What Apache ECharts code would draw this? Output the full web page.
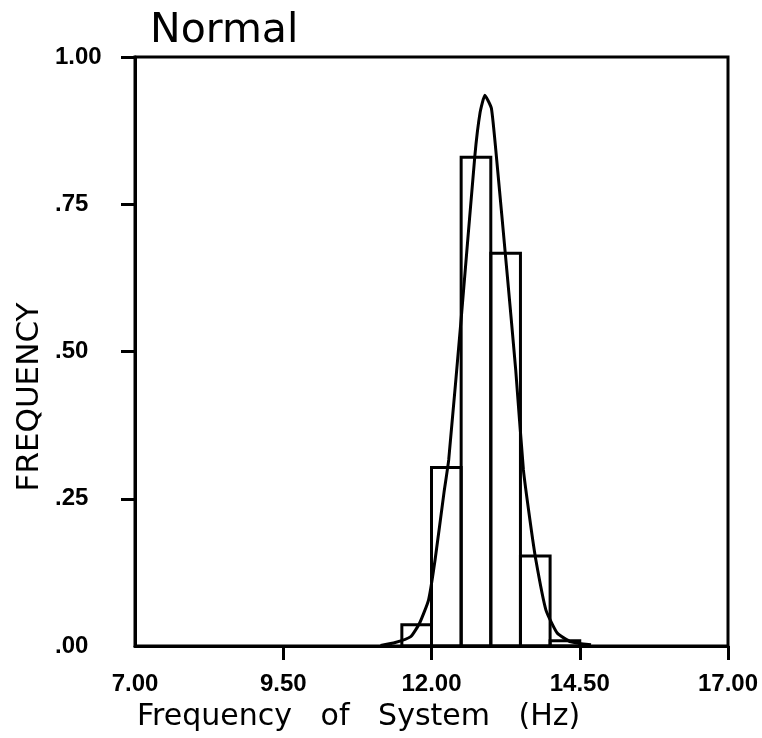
<!DOCTYPE html>
<html>
<head>
<meta charset="utf-8">
<script src="https://cdn.jsdelivr.net/npm/echarts@6/dist/echarts.min.js"></script>
<style>
html,body{margin:0;padding:0;background:#fff;}
#chart{width:762px;height:738px;}
</style>
</head>
<body>
<div id="chart"></div>
<script>
// Histogram bins (left edge, right edge) and relative frequencies
var binLeft = [11.5, 12.0, 12.5, 13.0, 13.5, 14.0];
var binRight = [12.0, 12.5, 13.0, 13.5, 14.0, 14.5];
var binHeight = [0.036, 0.303, 0.830, 0.667, 0.153, 0.009];

// Fitted normal curve
var curveX = [11.14, 11.36, 11.65, 11.80, 11.95, 12.06, 12.21, 12.29, 12.51, 12.73, 12.82, 12.90,
              13.01, 13.10, 13.27, 13.42, 13.55, 13.66, 13.76, 13.93, 14.12, 14.35, 14.69];
var curveY = [0.001, 0.005, 0.016, 0.039, 0.078, 0.146, 0.260, 0.316, 0.567, 0.831, 0.906, 0.935,
              0.913, 0.825, 0.638, 0.469, 0.299, 0.214, 0.146, 0.061, 0.022, 0.007, 0.002];

// Axis tick labels
var xTickValues = [7.0, 9.5, 12.0, 14.5, 17.0];
var xTickMarks = [9.5, 12.0, 14.5, 17.0];
var yTickValues = [0, 0.25, 0.5, 0.75, 1.0];
var yTickMarks = [0.25, 0.5, 0.75, 1.0];

var titleText = 'Normal';
var xName = 'Frequency   of   System   (Hz)';
var yName = 'FREQUENCY';

var barData = binLeft.map(function (l, i) { return [l, binRight[i], binHeight[i]]; });
var curveData = curveX.map(function (x, i) { return [x, curveY[i]]; });

var chart = echarts.init(document.getElementById('chart'), null, {renderer: 'canvas'});
var labelFont = {fontFamily: 'Liberation Sans', fontSize: 24, fontWeight: 'bold', color: '#000'};

chart.setOption({
  animation: false,
  backgroundColor: '#fff',
  grid: {left: 135, right: 34, top: 57, bottom: 92, show: true, borderColor: '#000', borderWidth: 3, backgroundColor: 'transparent'},
  xAxis: {
    type: 'value', min: 7, max: 17,
    axisLine: {show: true, onZero: false, lineStyle: {color: '#000', width: 3}},
    axisTick: {show: true, inside: false, length: 14, lineStyle: {color: '#000', width: 3}, customValues: xTickMarks},
    axisLabel: Object.assign({margin: 26, customValues: xTickValues, formatter: function (v) { return v.toFixed(2); }}, labelFont),
    splitLine: {show: false}
  },
  yAxis: {
    type: 'value', min: 0, max: 1, interval: 0.25,
    axisLine: {show: true, lineStyle: {color: '#000', width: 3}},
    axisTick: {show: true, inside: false, length: 14, lineStyle: {color: '#000', width: 3}, customValues: yTickMarks},
    axisLabel: Object.assign({margin: 80, align: 'left', customValues: yTickValues, formatter: function (v) {
      var s = v.toFixed(2); return v < 1 ? s.slice(1) : s; }}, labelFont),
    splitLine: {show: false}
  },
  graphic: [
    {type: 'text', left: 150, top: 11, style: {text: titleText, fontFamily: 'DejaVu Sans', fontSize: 41, fill: '#000'}},
    {type: 'text', x: 137, y: 717, style: {text: xName, fontFamily: 'DejaVu Sans', fontSize: 30, fill: '#000', textAlign: 'left', textVerticalAlign: 'middle'}},
    {type: 'text', x: 30, y: 397, rotation: Math.PI / 2, style: {text: yName, fontFamily: 'DejaVu Sans', fontSize: 31, fill: '#000', textAlign: 'center', textVerticalAlign: 'middle'}}
  ],
  series: [
    {
      type: 'custom',
      data: barData,
      encode: {x: [0, 1], y: 2},
      renderItem: function (params, api) {
        var p0 = api.coord([api.value(0), api.value(2)]);
        var p1 = api.coord([api.value(1), 0]);
        return {
          type: 'rect',
          shape: {x: p0[0], y: p0[1], width: p1[0] - p0[0], height: p1[1] - p0[1]},
          style: {fill: 'none', stroke: '#000', lineWidth: 3}
        };
      },
      z: 2
    },
    {
      type: 'line',
      data: curveData,
      symbol: 'none',
      smooth: 0.15,
      lineStyle: {color: '#000', width: 3},
      z: 3
    }
  ]
});
</script>
</body>
</html>
